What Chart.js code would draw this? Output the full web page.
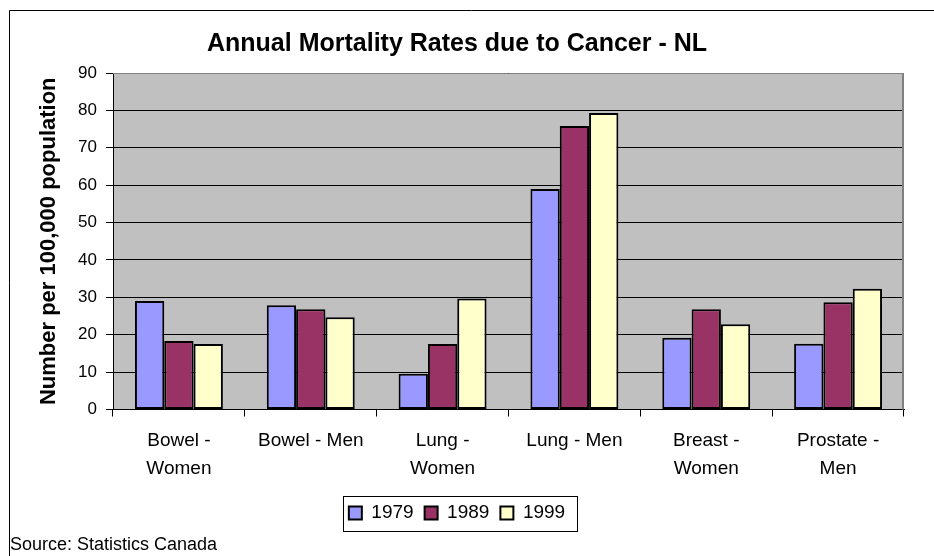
<!DOCTYPE html>
<html>
<head>
<meta charset="utf-8">
<title>Annual Mortality Rates due to Cancer - NL</title>
<script src="https://cdn.jsdelivr.net/npm/chart.js@4.4.1/dist/chart.umd.min.js"></script>
<style>
  html, body { margin: 0; padding: 0; background: #fff; }
  canvas { display: block; }
</style>
</head>
<body>
<canvas id="cancerChart" width="934" height="556"></canvas>
<script>
// data
const categories = [['Bowel -', 'Women'], 'Bowel - Men', ['Lung -', 'Women'], 'Lung - Men', ['Breast -', 'Women'], ['Prostate -', 'Men']];
const years = ['1979', '1989', '1999'];
const rates1979 = [29.0, 27.9, 9.6, 59.0, 19.2, 17.6];
const rates1989 = [18.3, 26.8, 17.5, 75.8, 26.8, 28.7];
const rates1999 = [17.5, 24.7, 29.7, 79.3, 22.8, 32.3];
const yMin = 0, yMax = 90, yStep = 10;

const FONT = "'Liberation Sans', Arial, sans-serif";

// grey plot area, outer frame, legend box
const excelLook = {
    id: 'excelLook',
    beforeDraw(chart) {
        const { ctx, chartArea: a } = chart;
        ctx.save();
        ctx.fillStyle = '#c0c0c0';
        ctx.fillRect(a.left, a.top, a.right - a.left, a.bottom - a.top);
        ctx.strokeStyle = '#000';
        ctx.lineWidth = 1;
        ctx.beginPath();
        ctx.moveTo(9.5, chart.height);
        ctx.lineTo(9.5, 10.5);
        ctx.lineTo(chart.width, 10.5);
        ctx.stroke();
        ctx.restore();
    },
    beforeDatasetsDraw(chart) {
        const { ctx, chartArea: a } = chart;
        ctx.save();
        ctx.strokeStyle = '#808080';
        ctx.lineWidth = 1;
        ctx.beginPath();
        ctx.moveTo(a.left, a.top + 0.5);
        ctx.lineTo(a.right, a.top + 0.5);
        ctx.stroke();
        ctx.lineWidth = 2;
        ctx.beginPath();
        ctx.moveTo(a.right - 1, a.top);
        ctx.lineTo(a.right - 1, a.bottom);
        ctx.stroke();
        ctx.restore();
    },
    afterDraw(chart) {
        const boxes = chart.legend.legendHitBoxes;
        if (!boxes || !boxes.length) return;
        const first = boxes[0], last = boxes[boxes.length - 1];
        const left = Math.round(first.left - 6) + 0.5;
        const right = Math.round(last.left + last.width + 12) + 0.5;
        const top = Math.round(first.top + first.height / 2 - 17) + 0.5;
        const bottom = top + 35;
        const ctx = chart.ctx;
        ctx.save();
        ctx.strokeStyle = '#000';
        ctx.lineWidth = 1;
        ctx.strokeRect(left, top, right - left, bottom - top);
        ctx.restore();
    }
};

const ctx = document.getElementById('cancerChart').getContext('2d');
new Chart(ctx, {
    type: 'bar',
    data: {
        labels: categories,
        datasets: [
            { label: years[0], data: rates1979, backgroundColor: '#9999ff' },
            { label: years[1], data: rates1989, backgroundColor: '#993366' },
            { label: years[2], data: rates1999, backgroundColor: '#ffffcc' }
        ]
    },
    options: {
        responsive: false,
        animation: false,
        layout: { padding: { left: 10, right: 30, top: 10, bottom: 0 } },
        datasets: {
            bar: {
                borderColor: '#000',
                borderWidth: 2,
                borderSkipped: false,
                barPercentage: 1,
                categoryPercentage: 0.667
            }
        },
        scales: {
            x: {
                grid: { drawOnChartArea: false, drawTicks: true, tickLength: 7, color: '#000', tickColor: '#000' },
                border: { display: true, color: '#000', width: 1 },
                ticks: {
                    color: '#000',
                    padding: 10,
                    maxRotation: 0,
                    autoSkip: false,
                    font: { family: FONT, size: 19, lineHeight: 1.47 }
                }
            },
            y: {
                min: yMin,
                max: yMax,
                afterFit(scale) { scale.width = 103; },
                grid: { color: '#000', tickColor: '#000', tickLength: 7 },
                border: { display: true, color: '#000', width: 1 },
                ticks: {
                    stepSize: yStep,
                    color: '#000',
                    padding: 9,
                    font: { family: FONT, size: 17 }
                },
                title: {
                    display: true,
                    text: 'Number per 100,000 population',
                    color: '#000',
                    padding: { top: 26, bottom: 0 },
                    font: { family: FONT, size: 22, weight: 'bold' }
                }
            }
        },
        plugins: {
            title: {
                display: true,
                text: 'Annual Mortality Rates due to Cancer - NL',
                color: '#000',
                padding: { top: 19, bottom: 14 },
                font: { family: FONT, size: 25, weight: 'bold' }
            },
            subtitle: {
                display: true,
                text: 'Source: Statistics Canada',
                position: 'bottom',
                align: 'start',
                color: '#000',
                padding: { top: 2, bottom: 0 },
                font: { family: FONT, size: 18 }
            },
            legend: {
                position: 'bottom',
                labels: {
                    color: '#000',
                    boxWidth: 13,
                    boxHeight: 13,
                    padding: 11,
                    font: { family: FONT, size: 19 }
                }
            },
            tooltip: { enabled: false }
        }
    },
    plugins: [excelLook]
});
</script>
</body>
</html>
